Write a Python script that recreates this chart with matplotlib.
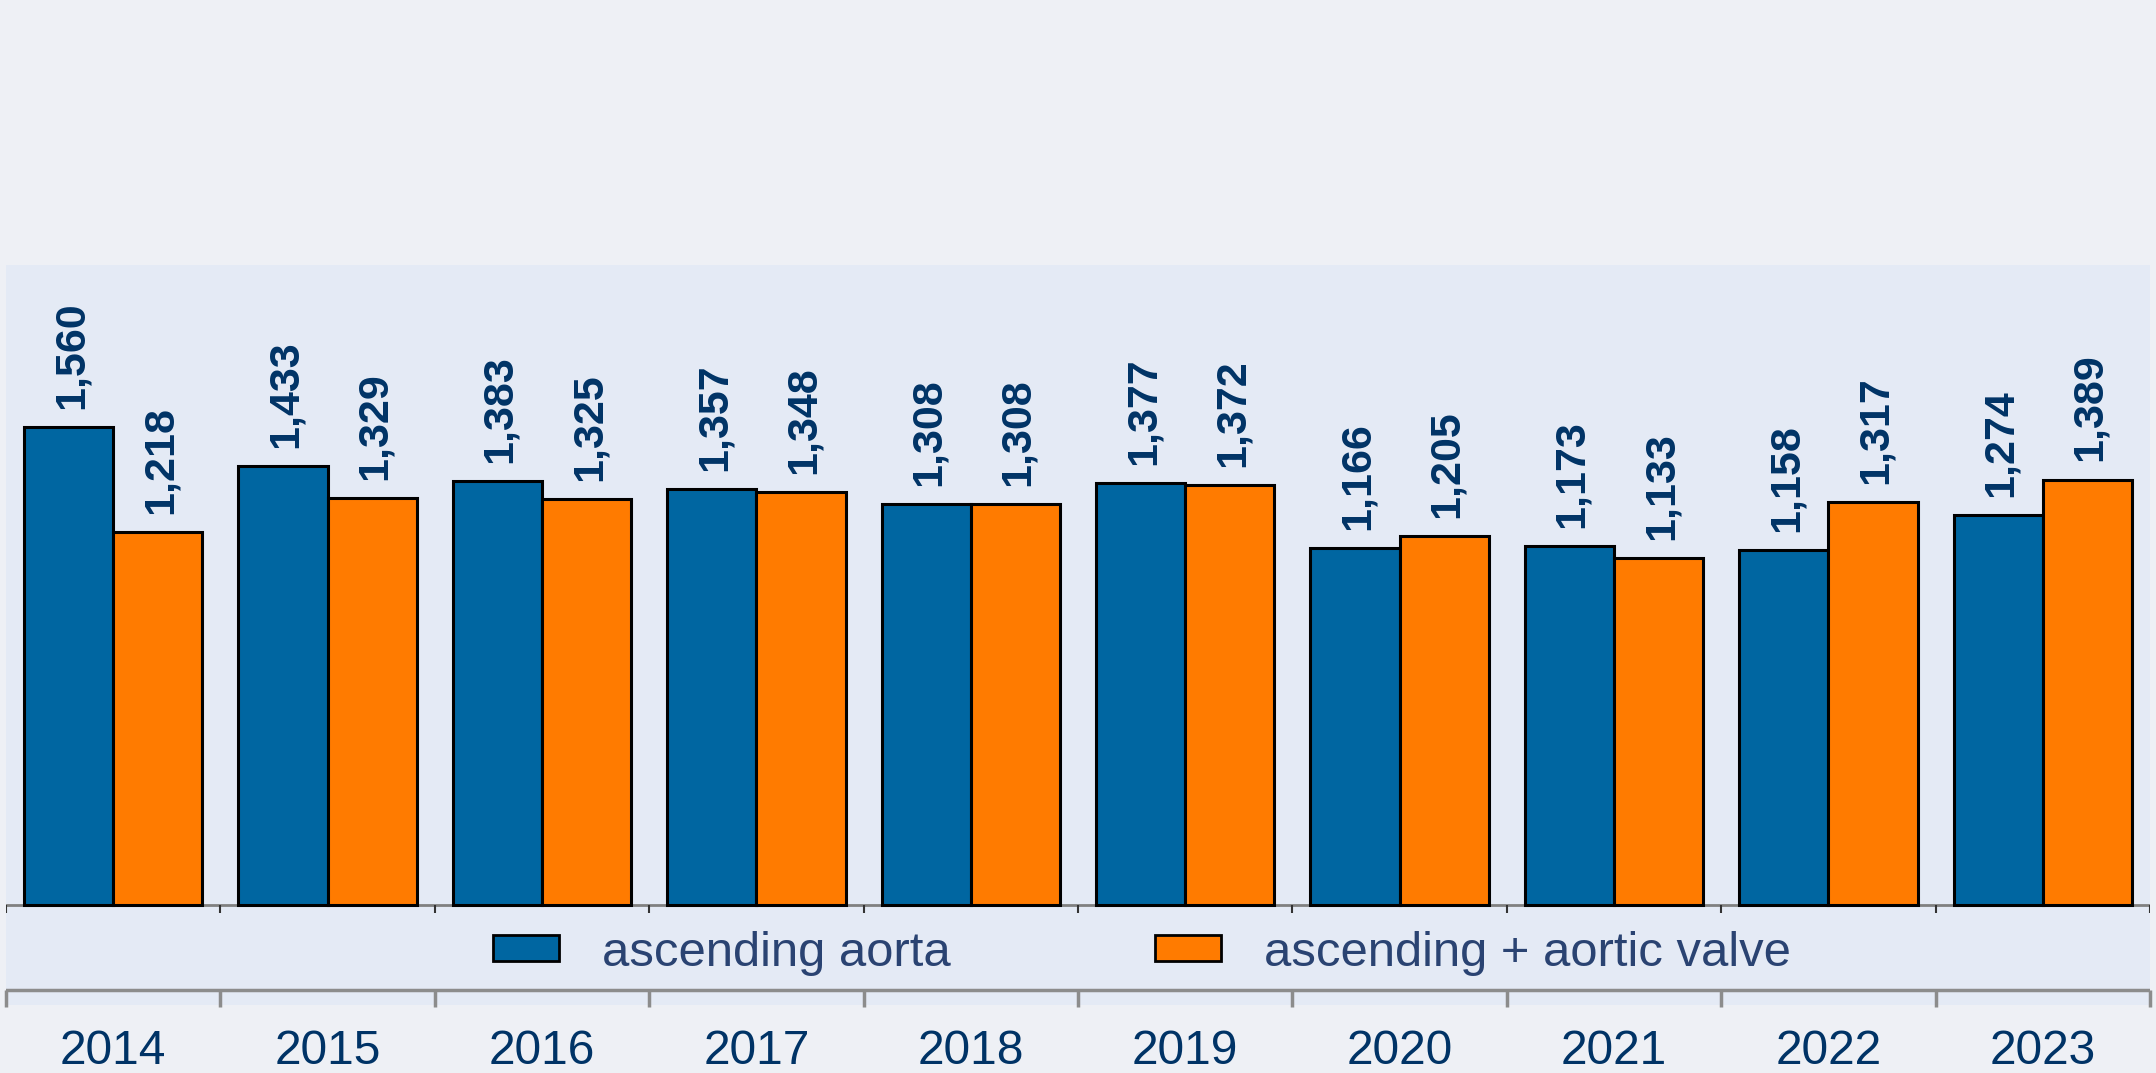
# Aortic surgery counts per year, two grouped bar series
import matplotlib.pyplot as plt
import numpy as np
from matplotlib.patches import Patch

years = ['2014', '2015', '2016', '2017', '2018', '2019', '2020', '2021', '2022', '2023']
ascending_aorta = [1560, 1433, 1383, 1357, 1308, 1377, 1166, 1173, 1158, 1274]
ascending_valve = [1218, 1329, 1325, 1348, 1308, 1372, 1205, 1133, 1317, 1389]
series_names = ['ascending aorta', 'ascending + aortic valve']

BLUE = '#0066A1'
ORANGE = '#FF7B00'
NAVY = '#003366'
LEGEND_TXT = '#2A4372'
FIG_BG = '#EEF0F5'
AX_BG = '#E4EAF5'

plt.rcParams['font.family'] = ['Liberation Sans', 'DejaVu Sans']

W, H = 2156, 1073
fig = plt.figure(figsize=(W / 100, H / 100), dpi=100, facecolor=FIG_BG)
# axes box in pixels: left 6, right 2150, top 265, bottom 1005
ax = fig.add_axes([6 / W, (H - 1005) / H, 2144 / W, (1005 - 265) / H])
ax.set_facecolor(AX_BG)
for s in ax.spines.values():
    s.set_visible(False)

x = np.arange(len(years))
bw = 0.416
b1 = ax.bar(x - bw / 2, ascending_aorta, bw, color=BLUE, edgecolor='black',
            linewidth=2.2, zorder=3)
b2 = ax.bar(x + bw / 2, ascending_valve, bw, color=ORANGE, edgecolor='black',
            linewidth=2.2, zorder=3)

for bars in (b1, b2):
    for rect in bars:
        v = rect.get_height()
        ax.annotate(f'{v:,}', (rect.get_x() + rect.get_width() / 2, v),
                    xytext=(2, 13), textcoords='offset points',
                    rotation=90, ha='center', va='bottom',
                    fontsize=31, fontweight='bold', color=NAVY)

# y range so that 0 sits at the baseline pixel row
px_per_unit = 0.3063
ax.set_ylim(-(1005 - 905) / px_per_unit, (905 - 265) / px_per_unit)
ax.set_xlim(-0.5, len(years) - 0.5)

# baseline and a second line lower down, with boundary ticks
y_low = -(990 - 905) / px_per_unit
ax.axhline(0, color='#808080', linewidth=2, zorder=2)
ax.axhline(y_low, color='#8C8C8C', linewidth=2.5, zorder=2)
bounds = np.arange(len(years) + 1) - 0.5
ax.vlines(bounds, -8 / px_per_unit, 0, color='#333333', linewidth=1.5, zorder=2)
ax.vlines(bounds, y_low - 17 / px_per_unit, y_low, color='#8C8C8C',
          linewidth=2.5, zorder=2, clip_on=False)

ax.set_yticks([])
ax.set_xticks(x)
ax.set_xticklabels(years, fontsize=34.5, color=NAVY)
ax.tick_params(axis='x', length=0, pad=17)

handles = [Patch(facecolor=BLUE, edgecolor='black', linewidth=2),
           Patch(facecolor=ORANGE, edgecolor='black', linewidth=2)]
leg = fig.legend(handles, series_names, loc='center',
                 bbox_to_anchor=(1142 / W, 1 - 953 / H), ncol=2, frameon=False,
                 fontsize=35.3, handlelength=1.36, handleheight=0.42,
                 handletextpad=0.88, columnspacing=4.15)
for t in leg.get_texts():
    t.set_color(LEGEND_TXT)

fig.savefig('out.png', dpi=100, facecolor=FIG_BG)
